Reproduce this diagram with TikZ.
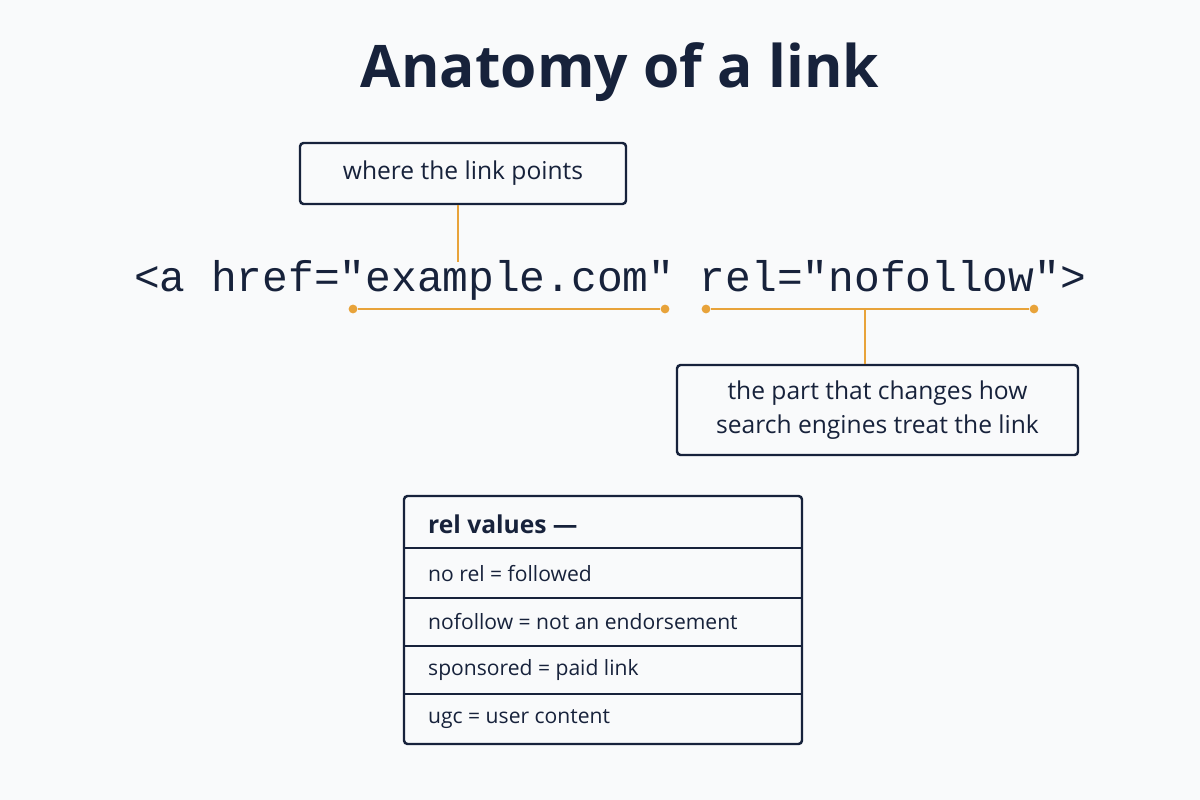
\documentclass[tikz,border=0pt]{standalone}
\usepackage{fontspec}
\setmainfont{Open Sans}
\setmonofont{Liberation Mono}
\begin{document}
\definecolor{navy}{HTML}{17223B}
\definecolor{org}{HTML}{E8A33A}
\definecolor{bg}{HTML}{F9FAFB}
\begin{tikzpicture}[x=0.02cm,y=-0.02cm,
  box/.style={draw=navy,line width=1.4pt,rounded corners=2pt,text=navy,font=\fontsize{14}{18}\selectfont,align=center},
  lead/.style={draw=org,line width=1.1pt},
  dot/.style={circle,fill=org,inner sep=0pt,minimum size=5pt},
  row/.style={font=\fontsize{12}{14}\selectfont,text=navy,anchor=west}]
\fill[bg] (0,0) rectangle (1200,800);
\useasboundingbox (0,0) rectangle (1200,800);
\node[text=navy,font=\fontsize{33.4}{38}\selectfont\bfseries] (title) at (620,72) {Anatomy of a link};
\node[box,minimum width=326*0.02cm,minimum height=61*0.02cm] (b1) at (463,173.5) {where the link points};
\node[text=navy,font=\fontsize{24.4}{26}\ttfamily] (code) at (610,280) {<a href="example.com" rel="nofollow">};
\coordinate (c1) at (458,262);
\draw[lead] (b1.south -| c1) -- (c1);
\node[dot] (d1) at (353,309) {}; \node[dot] (d2) at (665,309) {};
\node[dot] (d3) at (706,309) {}; \node[dot] (d4) at (1034,309) {};
\draw[lead] (d1) -- (d2); \draw[lead] (d3) -- (d4);
\node[box,minimum width=401*0.02cm,minimum height=90*0.02cm,font=\fontsize{14}{19}\selectfont] (b2) at (877.5,410) {the part that changes how\\search engines treat the link};
\coordinate (m2) at (865,309);
\draw[lead] (m2) -- (m2 |- b2.north);
\node[draw=navy,line width=1.4pt,rounded corners=2pt,minimum width=398*0.02cm,minimum height=248*0.02cm] (tab) at (603,620) {};
\foreach \y in {548,598,646,694} \draw[navy,line width=1.1pt] (404,\y) -- (802,\y);
\node[row,font=\fontsize{14}{16}\selectfont\bfseries] (r0) at (422,524) {rel values —};
\node[row] (r1) at (422,574) {no rel = followed};
\node[row] (r2) at (422,622) {nofollow = not an endorsement};
\node[row] (r3) at (422,670) {sponsored = paid link};
\node[row] (r4) at (422,719) {ugc = user content};
\end{tikzpicture}
\end{document}
